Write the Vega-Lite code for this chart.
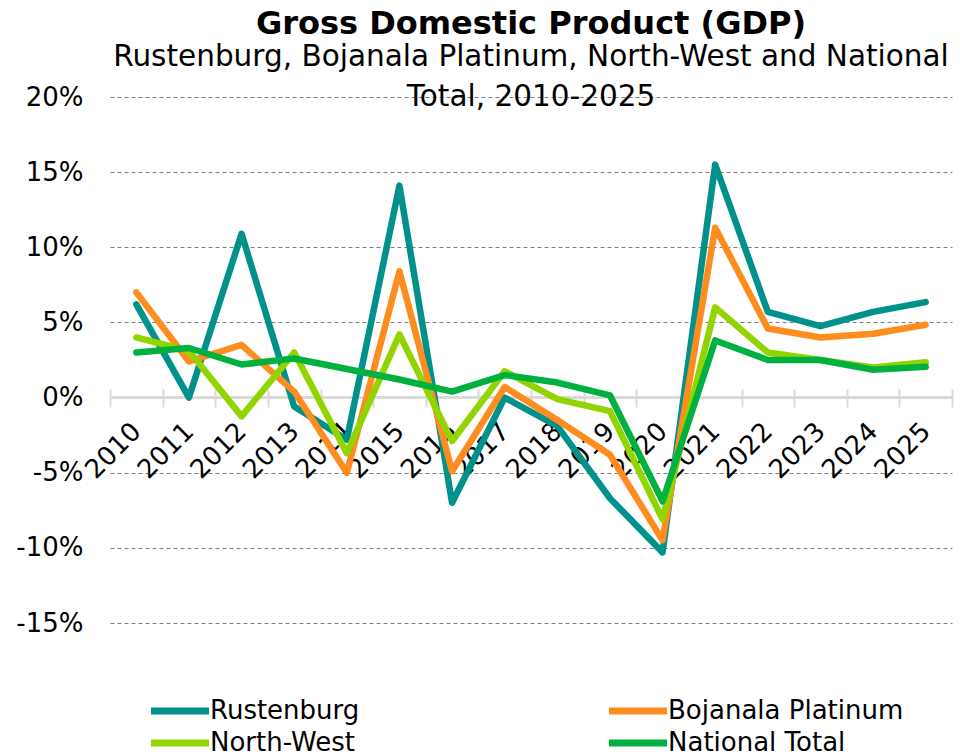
{
  "$schema": "https://vega.github.io/schema/vega-lite/v6.json",
  "autosize": {"type": "none"},
  "width": 842,
  "height": 526,
  "padding": {"left": 110, "top": 97, "right": 8, "bottom": 131},
  "background": "white",
  "config": {
    "font": "DejaVu Sans",
    "view": {"stroke": null}
  },
  "title": {
    "text": "Gross Domestic Product (GDP)",
    "subtitle": ["Rustenburg, Bojanala Platinum, North-West and National", "Total, 2010-2025"],
    "anchor": "middle",
    "frame": "group",
    "font": "DejaVu Sans",
    "fontSize": 32,
    "fontWeight": "bold",
    "color": "#000000",
    "subtitleFont": "DejaVu Sans",
    "subtitleFontSize": 29.5,
    "subtitleColor": "#000000",
    "subtitleLineHeight": 40,
    "subtitlePadding": 2,
    "offset": -28
  },
  "data": {
    "values": [
      {"year": "2010", "series": "Rustenburg", "value": 6.2},
      {"year": "2011", "series": "Rustenburg", "value": 0.0},
      {"year": "2012", "series": "Rustenburg", "value": 10.9},
      {"year": "2013", "series": "Rustenburg", "value": -0.6},
      {"year": "2014", "series": "Rustenburg", "value": -2.8},
      {"year": "2015", "series": "Rustenburg", "value": 14.1},
      {"year": "2016", "series": "Rustenburg", "value": -7.0},
      {"year": "2017", "series": "Rustenburg", "value": 0.0},
      {"year": "2018", "series": "Rustenburg", "value": -1.9},
      {"year": "2019", "series": "Rustenburg", "value": -6.7},
      {"year": "2020", "series": "Rustenburg", "value": -10.3},
      {"year": "2021", "series": "Rustenburg", "value": 15.5},
      {"year": "2022", "series": "Rustenburg", "value": 5.7},
      {"year": "2023", "series": "Rustenburg", "value": 4.75},
      {"year": "2024", "series": "Rustenburg", "value": 5.7},
      {"year": "2025", "series": "Rustenburg", "value": 6.35},
      {"year": "2010", "series": "Bojanala Platinum", "value": 7.0},
      {"year": "2011", "series": "Bojanala Platinum", "value": 2.4},
      {"year": "2012", "series": "Bojanala Platinum", "value": 3.5},
      {"year": "2013", "series": "Bojanala Platinum", "value": 0.4},
      {"year": "2014", "series": "Bojanala Platinum", "value": -5.0},
      {"year": "2015", "series": "Bojanala Platinum", "value": 8.4},
      {"year": "2016", "series": "Bojanala Platinum", "value": -4.9},
      {"year": "2017", "series": "Bojanala Platinum", "value": 0.7},
      {"year": "2018", "series": "Bojanala Platinum", "value": -1.5},
      {"year": "2019", "series": "Bojanala Platinum", "value": -3.8},
      {"year": "2020", "series": "Bojanala Platinum", "value": -9.5},
      {"year": "2021", "series": "Bojanala Platinum", "value": 11.3},
      {"year": "2022", "series": "Bojanala Platinum", "value": 4.6},
      {"year": "2023", "series": "Bojanala Platinum", "value": 4.0},
      {"year": "2024", "series": "Bojanala Platinum", "value": 4.25},
      {"year": "2025", "series": "Bojanala Platinum", "value": 4.85},
      {"year": "2010", "series": "North-West", "value": 4.0},
      {"year": "2011", "series": "North-West", "value": 3.1},
      {"year": "2012", "series": "North-West", "value": -1.25},
      {"year": "2013", "series": "North-West", "value": 3.0},
      {"year": "2014", "series": "North-West", "value": -3.7},
      {"year": "2015", "series": "North-West", "value": 4.2},
      {"year": "2016", "series": "North-West", "value": -2.9},
      {"year": "2017", "series": "North-West", "value": 1.75},
      {"year": "2018", "series": "North-West", "value": -0.1},
      {"year": "2019", "series": "North-West", "value": -0.9},
      {"year": "2020", "series": "North-West", "value": -8.1},
      {"year": "2021", "series": "North-West", "value": 6.0},
      {"year": "2022", "series": "North-West", "value": 3.0},
      {"year": "2023", "series": "North-West", "value": 2.5},
      {"year": "2024", "series": "North-West", "value": 2.0},
      {"year": "2025", "series": "North-West", "value": 2.35},
      {"year": "2010", "series": "National Total", "value": 3.0},
      {"year": "2011", "series": "National Total", "value": 3.3},
      {"year": "2012", "series": "National Total", "value": 2.2},
      {"year": "2013", "series": "National Total", "value": 2.6},
      {"year": "2014", "series": "National Total", "value": 1.9},
      {"year": "2015", "series": "National Total", "value": 1.2},
      {"year": "2016", "series": "National Total", "value": 0.4},
      {"year": "2017", "series": "National Total", "value": 1.5},
      {"year": "2018", "series": "National Total", "value": 1.0},
      {"year": "2019", "series": "National Total", "value": 0.15},
      {"year": "2020", "series": "National Total", "value": -6.9},
      {"year": "2021", "series": "National Total", "value": 3.8},
      {"year": "2022", "series": "National Total", "value": 2.5},
      {"year": "2023", "series": "National Total", "value": 2.5},
      {"year": "2024", "series": "National Total", "value": 1.85},
      {"year": "2025", "series": "National Total", "value": 2.05}
    ]
  },
  "layer": [
    {
      "mark": {"type": "rule", "color": "#d9d9d9", "strokeWidth": 2},
      "encoding": {"y": {"datum": 0, "type": "quantitative", "scale": {"domain": [-15, 20]}}}
    },
    {
      "mark": {"type": "line", "strokeWidth": 6.5, "strokeCap": "round", "strokeJoin": "round"},
      "encoding": {
        "x": {
          "field": "year",
          "type": "ordinal",
          "bandPosition": 0.5,
          "scale": {"type": "band", "paddingInner": 0, "paddingOuter": 0},
          "axis": {
            "title": null,
            "offset": -234,
            "domain": false,
            "tickBand": "extent",
            "ticks": true,
            "tickSize": 18,
            "tickColor": "#d9d9d9",
            "tickWidth": 2,
            "grid": false,
            "labelAngle": -45,
            "labelAlign": "right",
            "labelBaseline": "middle",
            "labelFont": "DejaVu Sans",
            "labelFontSize": 26,
            "labelColor": "#000000",
            "labelPadding": 20,
            "labelOverlap": false
          }
        },
        "y": {
          "field": "value",
          "type": "quantitative",
          "scale": {"domain": [-15, 20], "nice": false, "zero": false},
          "axis": {
            "title": null,
            "values": [-15, -10, -5, 0, 5, 10, 15, 20],
            "labelExpr": "datum.value + '%'",
            "domain": false,
            "ticks": false,
            "grid": true,
            "gridColor": "#7f7f7f",
            "gridDash": [4, 3],
            "gridWidth": 1,
            "labelFont": "DejaVu Sans",
            "labelFontSize": 26,
            "labelColor": "#000000",
            "labelPadding": 27
          }
        },
        "color": {
          "field": "series",
          "type": "nominal",
          "sort": ["Rustenburg", "Bojanala Platinum", "North-West", "National Total"],
          "scale": {
            "domain": ["Rustenburg", "Bojanala Platinum", "North-West", "National Total"],
            "range": ["#00918B", "#FF8C1F", "#92D400", "#00B140"]
          },
          "legend": {
            "title": null,
            "orient": "none",
            "legendX": 52,
            "legendY": 596,
            "direction": "horizontal",
            "columns": 2,
            "columnPadding": 235,
            "rowPadding": -4,
            "symbolType": "M-2,0H2",
            "symbolSize": 841,
            "symbolStrokeWidth": 7,
            "labelFont": "DejaVu Sans",
            "labelFontSize": 26,
            "labelColor": "#000000",
            "labelOffset": 12,
            "labelLimit": 400
          }
        },
        "order": {"field": "year"}
      }
    }
  ]
}
